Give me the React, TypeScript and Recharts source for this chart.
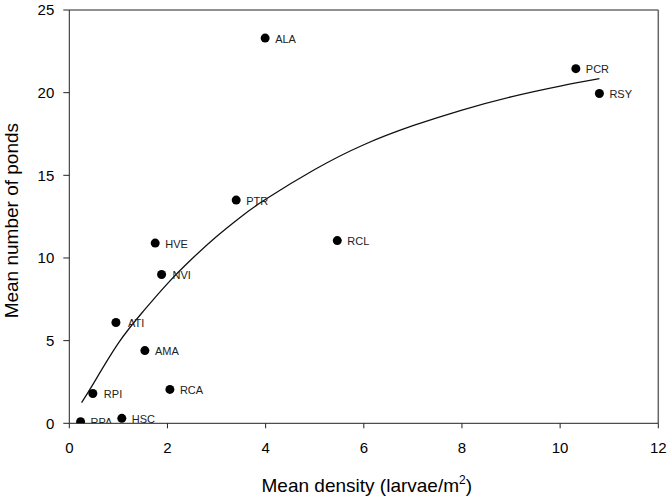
import { ComposedChart, Scatter, Line, XAxis, YAxis, ReferenceLine } from 'recharts';

// sites
const sites = ['RPA', 'RPI', 'HSC', 'ATI', 'AMA', 'HVE', 'NVI', 'RCA', 'PTR', 'ALA', 'RCL', 'PCR', 'RSY'];
const density = [0.23, 0.48, 1.07, 0.95, 1.54, 1.75, 1.88, 2.05, 3.4, 3.99, 5.46, 10.32, 10.8];
const ponds = [0.1, 1.8, 0.3, 6.1, 4.4, 10.9, 9.0, 2.05, 13.5, 23.3, 11.05, 21.45, 19.95];

// fitted curve
const fitX = [0.25, 0.5, 1, 1.5, 2, 2.5, 3, 3.5, 4, 5, 6, 7, 8, 9, 10, 10.8];
const fitY = [1.25, 2.45, 4.85, 6.75, 8.45, 9.95, 11.3, 12.5, 13.55, 15.35, 16.85, 18.0, 18.95, 19.75, 20.4, 20.85];

const xTicks = [0, 2, 4, 6, 8, 10, 12];
const yTicks = [0, 5, 10, 15, 20, 25];

const points = sites.map((name, i) => ({ name, x: density[i], y: ponds[i] }));
const curve = fitX.map((x, i) => ({ x, y: fitY[i] }));

const FONT = '"Liberation Sans", Arial, sans-serif';
const labelNudge: Record<string, number> = { ATI: 2, RPI: 1, NVI: 1 };

function Dot(props: any) {
  const { cx, cy, payload } = props;
  const dx = 10 + (labelNudge[payload.name] || 0);
  return (
    <g>
      <circle cx={cx} cy={cy} r={4.5} fill="#000" />
      <text x={cx + dx} y={cy + 4.5} fontSize={11} fill="#222" fontFamily={FONT}>
        {payload.name}
      </text>
    </g>
  );
}

function XTitle(props: any) {
  const { x, y, width } = props.viewBox;
  return (
    <text x={x + width / 2 + 3} y={y + 69} textAnchor="middle" fontSize={19} fill="#000" fontFamily={FONT}>
      Mean density (larvae/m
      <tspan dy={-8} fontSize={12}>2</tspan>
      <tspan dy={8}>)</tspan>
    </text>
  );
}

function YTitle(props: any) {
  const { y, height } = props.viewBox;
  const cy = y + height / 2 + 4;
  return (
    <text
      x={18}
      y={cy}
      transform={`rotate(-90, 18, ${cy})`}
      textAnchor="middle"
      fontSize={19}
      fill="#000"
      fontFamily={FONT}
    >
      Mean number of ponds
    </text>
  );
}

export default function App() {
  return (
    <div style={{ position: 'absolute', left: 0, top: 0, fontFamily: FONT }}>
      <ComposedChart
        width={672}
        height={500}
        margin={{ top: 10, right: 13.7, left: 0, bottom: 0 }}
      >
        <XAxis
          dataKey="x"
          type="number"
          domain={[0, 12]}
          ticks={xTicks}
          allowDataOverflow
          height={76.7}
          tickSize={5}
          tickMargin={14}
          stroke="#222"
          tick={{ fontSize: 15, fill: '#000', fontFamily: FONT }}
          label={{ content: XTitle }}
        />
        <YAxis
          type="number"
          domain={[0, 25]}
          ticks={yTicks}
          allowDataOverflow
          width={69.3}
          tickSize={6}
          tickMargin={9}
          stroke="#222"
          tick={{ fontSize: 15, fill: '#000', fontFamily: FONT }}
          label={{ content: YTitle }}
        />
        <ReferenceLine y={25} stroke="#222" strokeWidth={1} />
        <ReferenceLine x={12} stroke="#666" strokeWidth={1.5} />
        <Line
          data={curve}
          dataKey="y"
          type="natural"
          stroke="#111"
          strokeWidth={1.3}
          dot={false}
          activeDot={false}
          isAnimationActive={false}
        />
        <Scatter data={points} dataKey="y" shape={Dot} isAnimationActive={false} />
      </ComposedChart>
    </div>
  );
}
